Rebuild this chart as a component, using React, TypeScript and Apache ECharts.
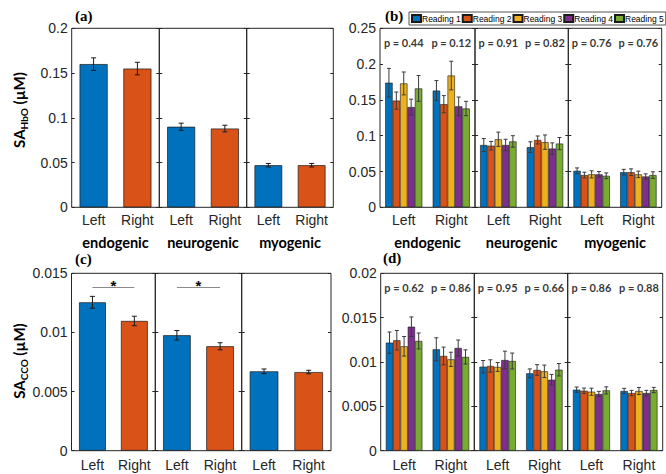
import React, { useEffect, useRef } from "react";
import * as echarts from "echarts";

// ---------- data ----------
const sides = ["Left", "Right"];
const groups = ["endogenic", "neurogenic", "myogenic"];
const readings = ["Reading 1", "Reading 2", "Reading 3", "Reading 4", "Reading 5"];

// (a) SA_HbO mean / s.e. per group: [Left, Right]
const hboMean = [[0.160, 0.155], [0.090, 0.088], [0.047, 0.047]];
const hboErr = [[0.007, 0.007], [0.004, 0.0037], [0.002, 0.002]];
// (c) SA_CCO mean / s.e. per group: [Left, Right]
const ccoMean = [[0.01255, 0.01097], [0.00976, 0.00883], [0.00671, 0.00665]];
const ccoErr = [[0.0005, 0.0004], [0.0004, 0.0003], [0.0002, 0.00015]];
const ccoSig = [true, true, false];

// (b) SA_HbO per reading: group -> side -> reading
const hboReadMean = [
  [[0.174, 0.149, 0.173, 0.140, 0.166], [0.163, 0.144, 0.184, 0.141, 0.138]],
  [[0.087, 0.086, 0.095, 0.087, 0.092], [0.084, 0.094, 0.091, 0.082, 0.089]],
  [[0.051, 0.045, 0.046, 0.046, 0.044], [0.049, 0.049, 0.046, 0.043, 0.045]],
];
const hboReadErr = [
  [[0.020, 0.012, 0.016, 0.011, 0.018], [0.014, 0.012, 0.020, 0.013, 0.010]],
  [[0.009, 0.006, 0.010, 0.008, 0.008], [0.0075, 0.0056, 0.010, 0.008, 0.0085]],
  [[0.004, 0.004, 0.005, 0.004, 0.004], [0.004, 0.0047, 0.0045, 0.0037, 0.0046]],
];
const hboP = [["0.44", "0.12"], ["0.91", "0.82"], ["0.76", "0.76"]];

// (d) SA_CCO per reading: group -> side -> reading
const ccoReadMean = [
  [[0.01218, 0.01245, 0.01177, 0.01398, 0.01237], [0.01143, 0.01068, 0.0103, 0.01158, 0.01057]],
  [[0.00947, 0.00955, 0.00944, 0.01022, 0.01011], [0.00872, 0.0091, 0.00895, 0.0080, 0.00913]],
  [[0.00688, 0.00676, 0.00665, 0.00639, 0.0068], [0.00673, 0.0065, 0.00673, 0.0065, 0.00684]],
];
const ccoReadErr = [
  [[0.0012, 0.0011, 0.0011, 0.0011, 0.0009], [0.0013, 0.001, 0.0008, 0.0009, 0.0008]],
  [[0.0007, 0.0007, 0.0005, 0.001, 0.0009], [0.0005, 0.0006, 0.0007, 0.0006, 0.0007]],
  [[0.0003, 0.0003, 0.0004, 0.0003, 0.0004], [0.0003, 0.0003, 0.0004, 0.0003, 0.0003]],
];
const ccoP = [["0.62", "0.86"], ["0.95", "0.66"], ["0.86", "0.88"]];

// ---------- styling ----------
const sideColors = ["#0072BD", "#D95319"];
const readColors = ["#0072BD", "#D95319", "#EDB120", "#7E2F8E", "#77AC30"];
const AX = "#262626";
const TICK_FONT = "'Liberation Sans', Arial, sans-serif";
const BOLD_FONT = "Lato, 'Noto Sans', sans-serif";

type Panel = {
  key: string;
  top: number;
  bottom: number;
  xs: number[];
  max: number;
  interval: number;
  multi: boolean;
  showGroups: boolean;
  labelMargin: number;
};

const panels: Panel[] = [
  { key: "a", top: 28.3, bottom: 207.3, xs: [71.7, 159.3, 246.7, 333.3], max: 0.2, interval: 0.05, multi: false, showGroups: true, labelMargin: 6 },
  { key: "b", top: 28.3, bottom: 207.3, xs: [380, 475, 568.3, 661.7], max: 0.25, interval: 0.05, multi: true, showGroups: true, labelMargin: 6 },
  { key: "c", top: 273.3, bottom: 450.7, xs: [71.5, 155.3, 241.7, 331], max: 0.015, interval: 0.005, multi: false, showGroups: false, labelMargin: 7 },
  { key: "d", top: 273.3, bottom: 450.7, xs: [380.7, 474.3, 567.7, 662.7], max: 0.02, interval: 0.005, multi: true, showGroups: false, labelMargin: 7 },
];

const MULTI_GAP = 0.22;
const SINGLE_GAP = 0.36;

function errorRenderer(n: number, gap: number, capW: number, color: string) {
  return (params: any, api: any) => {
    const cat = api.value(0);
    const k = api.value(1);
    const v = api.value(2);
    const e = api.value(3);
    const catW = api.size([1, 0])[0];
    const bw = (catW * (1 - gap)) / n;
    const center = api.coord([cat, 0])[0];
    const x = center + (k - (n - 1) / 2) * bw;
    const top = api.coord([cat, v + e])[1];
    const bot = api.coord([cat, v - e])[1];
    const c = capW / 2;
    const style = { stroke: color, lineWidth: 1 };
    return {
      type: "group",
      children: [
        { type: "line", shape: { x1: x, y1: top, x2: x, y2: bot }, style },
        { type: "line", shape: { x1: x - c, y1: top, x2: x + c, y2: top }, style },
        { type: "line", shape: { x1: x - c, y1: bot, x2: x + c, y2: bot }, style },
      ],
    };
  };
}

function buildOption() {
  const grid: any[] = [];
  const xAxis: any[] = [];
  const yAxis: any[] = [];
  const series: any[] = [];

  panels.forEach((p) => {
    for (let g = 0; g < 3; g++) {
      const gi = grid.length;
      grid.push({
        left: p.xs[g],
        top: p.top,
        width: p.xs[g + 1] - p.xs[g],
        height: p.bottom - p.top,
        show: true,
        borderColor: AX,
        borderWidth: 1,
        backgroundColor: "transparent",
      });
      xAxis.push({
        type: "category",
        gridIndex: gi,
        data: sides,
        name: p.showGroups ? groups[g] : "",
        nameLocation: "middle",
        nameGap: 28,
        nameTextStyle: { fontFamily: BOLD_FONT, fontWeight: "bold", fontSize: 14.5, color: "#000" },
        axisLine: { show: false },
        axisTick: { show: true, inside: true, alignWithLabel: true, length: 3, lineStyle: { color: AX } },
        axisLabel: { interval: 0, hideOverlap: false, fontFamily: TICK_FONT, fontSize: 14, color: AX, margin: p.labelMargin },
        splitLine: { show: false },
      });
      const yBase = {
        type: "value",
        gridIndex: gi,
        min: 0,
        max: p.max,
        interval: p.interval,
        axisLine: { show: false },
        splitLine: { show: false },
        axisTick: { show: true, inside: true, length: 3, lineStyle: { color: AX } },
      };
      const yi = yAxis.length;
      yAxis.push({
        ...yBase,
        position: "left",
        axisLabel: { show: g === 0, fontFamily: TICK_FONT, fontSize: 14, color: AX, margin: 4 },
      });
      yAxis.push({ ...yBase, position: "right", axisLabel: { show: false } });

      if (!p.multi) {
        const mean = p.key === "a" ? hboMean[g] : ccoMean[g];
        const err = p.key === "a" ? hboErr[g] : ccoErr[g];
        const bar: any = {
          type: "bar",
          name: "mean-" + p.key + g,
          xAxisIndex: gi,
          yAxisIndex: yi,
          barCategoryGap: SINGLE_GAP * 100 + "%",
          data: mean.map((v, i) => ({
            value: v,
            itemStyle: { color: sideColors[i], borderColor: "#1a1a1a", borderWidth: 0.7 },
          })),
        };
        if (p.key === "c" && ccoSig[g]) {
          const lvl = p.max * 0.92;
          bar.markLine = {
            silent: true,
            symbol: ["none", "none"],
            lineStyle: { color: "#8a8a8a", width: 1, type: "solid" },
            label: {
              show: true,
              formatter: "*",
              position: "insideMiddleTop",
              distance: -6,
              fontFamily: TICK_FONT,
              fontWeight: "bold",
              fontSize: 15,
              color: "#000",
            },
            data: [[{ coord: ["Left", lvl] }, { coord: ["Right", lvl] }]],
          };
        }
        series.push(bar);
        series.push({
          type: "custom",
          xAxisIndex: gi,
          yAxisIndex: yi,
          z: 5,
          silent: true,
          renderItem: errorRenderer(1, SINGLE_GAP, 5, "#1a1a1a"),
          encode: { x: 0, y: 2 },
          data: mean.map((v, i) => [i, 0, v, err[i]]),
        });
      } else {
        const mean = p.key === "b" ? hboReadMean[g] : ccoReadMean[g];
        const err = p.key === "b" ? hboReadErr[g] : ccoReadErr[g];
        const pv = p.key === "b" ? hboP[g] : ccoP[g];
        readings.forEach((r, k) => {
          series.push({
            type: "bar",
            name: r,
            xAxisIndex: gi,
            yAxisIndex: yi,
            barGap: "0%",
            barCategoryGap: MULTI_GAP * 100 + "%",
            itemStyle: { color: readColors[k], borderColor: "#1a1a1a", borderWidth: 0.6 },
            data: sides.map((_, s) => mean[s][k]),
          });
        });
        const errData: any[] = [];
        sides.forEach((_, s) => readings.forEach((__, k) => errData.push([s, k, mean[s][k], err[s][k]])));
        series.push({
          type: "custom",
          xAxisIndex: gi,
          yAxisIndex: yi,
          z: 5,
          silent: true,
          renderItem: errorRenderer(5, MULTI_GAP, 4, "#3a3a3a"),
          encode: { x: 0, y: 2 },
          data: errData,
        });
        series.push({
          type: "scatter",
          xAxisIndex: gi,
          yAxisIndex: yi,
          symbolSize: 0,
          silent: true,
          label: {
            show: true,
            position: "inside",
            formatter: (q: any) => "p = " + q.value[2],
            fontFamily: BOLD_FONT,
            fontWeight: "bold",
            fontSize: 11,
            color: "#000",
          },
          labelLayout: { hideOverlap: false },
          data: pv.map((t, s) => [s, p.max * 0.92, t]),
        });
      }
    }
  });

  const yTitle = (x: number, y: number, sub: string) => ({
    type: "text",
    x,
    y,
    rotation: Math.PI / 2,
    style: {
      text: "{m|SA}{s|" + sub + "}{m| (µM)}",
      rich: {
        m: { fontFamily: BOLD_FONT, fontWeight: "bold", fontSize: 15, lineHeight: 20, fill: "#000", verticalAlign: "middle" },
        s: { fontFamily: BOLD_FONT, fontWeight: "bold", fontSize: 10, lineHeight: 10, fill: "#000", verticalAlign: "bottom" },
      },
      align: "center",
      textAlign: "center",
      verticalAlign: "middle",
      textVerticalAlign: "middle",
    },
  });
  const panelLabel = (x: number, y: number, t: string) => ({
    type: "text",
    x,
    y,
    style: {
      text: t,
      fontFamily: "'Liberation Serif', 'Times New Roman', serif",
      fontWeight: "bold",
      fontSize: 15,
      fill: "#000",
      align: "left",
      textAlign: "left",
      verticalAlign: "middle",
      textVerticalAlign: "middle",
    },
  });

  return {
    animation: false,
    backgroundColor: "#fff",
    grid,
    xAxis,
    yAxis,
    series,
    legend: {
      data: readings,
      left: 409,
      top: 12,
      width: 260,
      orient: "horizontal",
      itemWidth: 9,
      itemHeight: 7,
      itemGap: 1,
      padding: [2, 2],
      borderColor: "#555",
      borderWidth: 1,
      icon: "rect",
      selectedMode: false,
      textStyle: { fontFamily: TICK_FONT, fontSize: 8.5, color: "#000", padding: [0, 0, 0, -4] },
    },
    graphic: [
      panelLabel(75, 16, "(a)"),
      panelLabel(385, 16, "(b)"),
      panelLabel(75, 259, "(c)"),
      panelLabel(383, 258, "(d)"),
      yTitle(19, 110, "HbO"),
      yTitle(19, 361, "CCO"),
    ],
  };
}

export default function App() {
  const ref = useRef<HTMLDivElement>(null);
  useEffect(() => {
    if (!ref.current) return;
    const chart = echarts.init(ref.current, undefined, { renderer: "svg" });
    chart.setOption(buildOption() as any);
    return () => chart.dispose();
  }, []);
  return (
    <div
      ref={ref}
      style={{ position: "fixed", left: 0, top: 0, width: 666, height: 474, background: "#fff" }}
    />
  );
}
